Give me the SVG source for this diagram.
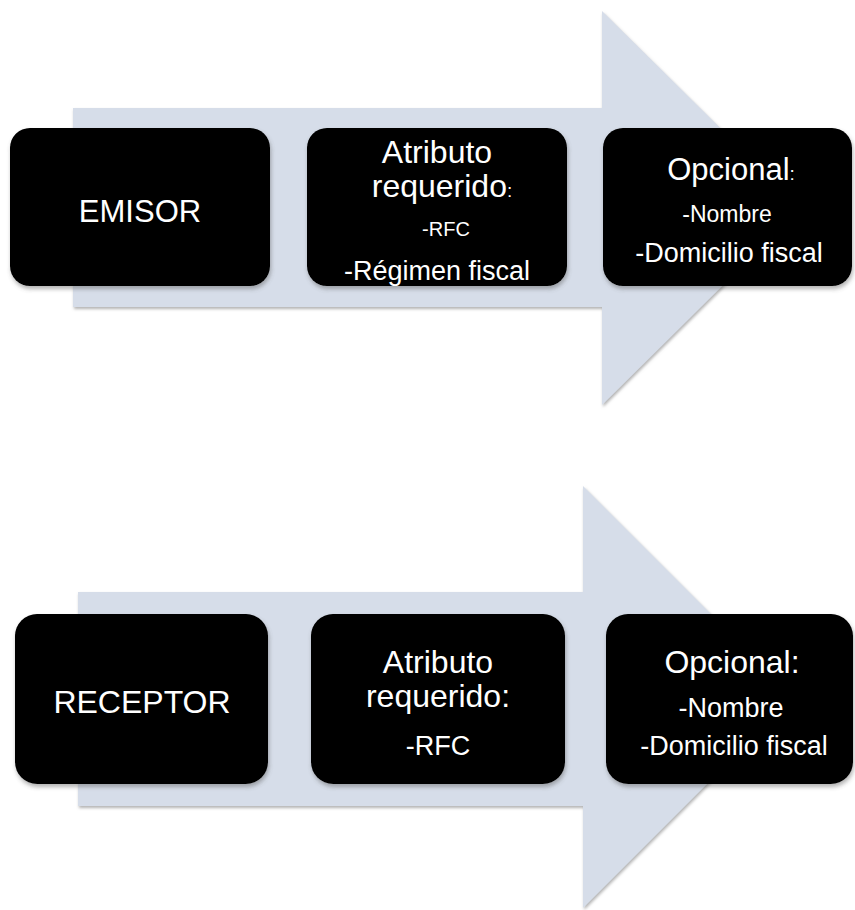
<svg xmlns="http://www.w3.org/2000/svg" width="855" height="910" viewBox="0 0 855 910">
  <style>
    .arrow { fill: #d6dde9; }
    .box { fill: #000000; }
    .t { fill: #ffffff; font-family: "Liberation Sans", Arial, sans-serif; text-anchor: middle; }
  </style>
  <defs>
    <filter id="arrowShadow" x="-5%" y="-5%" width="115%" height="115%">
      <feGaussianBlur in="SourceAlpha" stdDeviation="1.5"/>
      <feOffset dx="1" dy="2" result="b"/>
      <feFlood flood-color="#7f7f7f" flood-opacity="0.6"/>
      <feComposite in2="b" operator="in"/>
      <feMerge><feMergeNode/><feMergeNode in="SourceGraphic"/></feMerge>
    </filter>
    <filter id="boxShadow" x="-5%" y="-5%" width="115%" height="120%">
      <feGaussianBlur in="SourceAlpha" stdDeviation="2"/>
      <feOffset dx="1" dy="3" result="b"/>
      <feFlood flood-color="#555555" flood-opacity="0.45"/>
      <feComposite in2="b" operator="in"/>
      <feMerge><feMergeNode/><feMergeNode in="SourceGraphic"/></feMerge>
    </filter>
  </defs>

  <!-- background arrows -->
  <g id="connectors">
    <polygon class="arrow" filter="url(#arrowShadow)" points="73,108 602,108 602,11 801,208 602,405 602,307 73,307"/>
    <polygon class="arrow" filter="url(#arrowShadow)" points="78,592 583,592 583,486 794,697 583,908 583,806 78,806"/>
  </g>

  <!-- first row: emisor -->
  <g id="emisor">
    <rect class="box" filter="url(#boxShadow)" x="10" y="128" width="260" height="158" rx="20"/>
    <text class="t" x="140" y="222" font-size="31">EMISOR</text>
  </g>
  <g id="emisor-requerido">
    <rect class="box" filter="url(#boxShadow)" x="307" y="128" width="260" height="158" rx="20"/>
    <text class="t" x="437" y="163" font-size="32">Atributo</text>
    <text class="t" x="442" y="197" font-size="32">requerido<tspan font-size="19">:</tspan></text>
    <text class="t" x="446" y="236" font-size="20">-RFC</text>
    <text class="t" x="437" y="280" font-size="27">-Régimen fiscal</text>
  </g>
  <g id="emisor-opcional">
    <rect class="box" filter="url(#boxShadow)" x="603" y="128" width="249" height="158" rx="20"/>
    <text class="t" x="731" y="180" font-size="31">Opcional<tspan font-size="19">:</tspan></text>
    <text class="t" x="727" y="222" font-size="23">-Nombre</text>
    <text class="t" x="729" y="262" font-size="27">-Domicilio fiscal</text>
  </g>

  <!-- second row: receptor -->
  <g id="receptor">
    <rect class="box" filter="url(#boxShadow)" x="15" y="614" width="253" height="170" rx="22"/>
    <text class="t" x="142" y="713" font-size="32">RECEPTOR</text>
  </g>
  <g id="receptor-requerido">
    <rect class="box" filter="url(#boxShadow)" x="311" y="614" width="254" height="170" rx="22"/>
    <text class="t" x="438" y="673" font-size="32">Atributo</text>
    <text class="t" x="438" y="707" font-size="32">requerido:</text>
    <text class="t" x="438" y="755" font-size="27">-RFC</text>
  </g>
  <g id="receptor-opcional">
    <rect class="box" filter="url(#boxShadow)" x="606" y="614" width="247" height="170" rx="22"/>
    <text class="t" x="732" y="673" font-size="32">Opcional:</text>
    <text class="t" x="731" y="717" font-size="27">-Nombre</text>
    <text class="t" x="734" y="755" font-size="27">-Domicilio fiscal</text>
  </g>
</svg>
